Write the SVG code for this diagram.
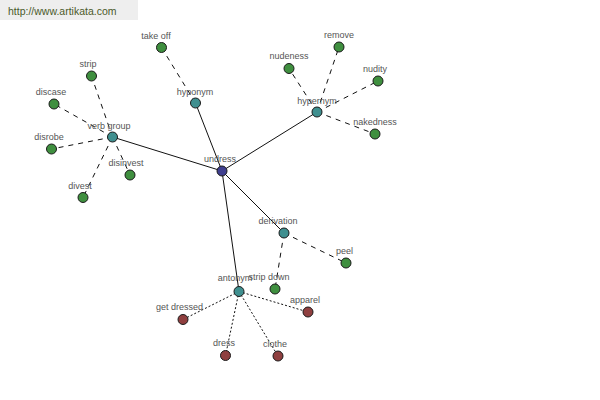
<svg xmlns="http://www.w3.org/2000/svg" width="600" height="400" viewBox="0 0 600 400">
<style>
text{font-family:"Liberation Sans",Arial,sans-serif;font-size:9px;fill:#555;text-anchor:middle}
.hdr{font-size:10.5px;fill:#4b5a2a;text-anchor:start}
line{stroke:#111;stroke-width:1}
.d{stroke-dasharray:5,5}
.o{stroke-dasharray:2,2}
circle{r:5;stroke:#1a1a1a;stroke-width:1}
.b{fill:#3f3f8f}.t{fill:#3f8f8f}.g{fill:#3f8f3f}.r{fill:#8f3f3f}
</style>
<rect x="0" y="0" width="138" height="20" fill="#eeeeee"/>
<text class="hdr" x="8" y="15">http://www.artikata.com</text>
<g id="connectors">
<line x1="222" y1="171" x2="195.5" y2="103"/>
<line x1="222" y1="171" x2="317" y2="112"/>
<line x1="222" y1="171" x2="112.5" y2="137"/>
<line x1="222" y1="171" x2="284" y2="233"/>
<line x1="222" y1="171" x2="239" y2="291.5"/>
<line class="d" x1="195.5" y1="103" x2="161.5" y2="47.5"/>
<line class="d" x1="317" y1="112" x2="289" y2="68.5"/>
<line class="d" x1="317" y1="112" x2="339" y2="47"/>
<line class="d" x1="317" y1="112" x2="378" y2="81"/>
<line class="d" x1="317" y1="112" x2="375" y2="134"/>
<line class="d" x1="112.5" y1="137" x2="91.5" y2="76"/>
<line class="d" x1="112.5" y1="137" x2="54" y2="104"/>
<line class="d" x1="112.5" y1="137" x2="51.5" y2="149"/>
<line class="d" x1="112.5" y1="137" x2="83" y2="197.5"/>
<line class="d" x1="112.5" y1="137" x2="130" y2="175"/>
<line class="d" x1="284" y1="233" x2="346" y2="263"/>
<line class="d" x1="284" y1="233" x2="275" y2="289"/>
<line class="o" x1="239" y1="291.5" x2="183" y2="319.5"/>
<line class="o" x1="239" y1="291.5" x2="225.5" y2="355.5"/>
<line class="o" x1="239" y1="291.5" x2="278" y2="356"/>
<line class="o" x1="239" y1="291.5" x2="308" y2="312"/>
</g>
<g id="undress"><circle class="b" cx="222" cy="171" r="5"/><text x="220" y="162">undress</text></g>
<g id="hyponym"><circle class="t" cx="195.5" cy="103" r="5"/><text x="195" y="95">hyponym</text></g>
<g id="hypernym"><circle class="t" cx="317" cy="112" r="5"/><text x="317" y="104">hypernym</text></g>
<g id="verb-group"><circle class="t" cx="112.5" cy="137" r="5"/><text x="109" y="129">verb group</text></g>
<g id="derivation"><circle class="t" cx="284" cy="233" r="5"/><text x="278" y="224">derivation</text></g>
<g id="antonym"><circle class="t" cx="239" cy="291.5" r="5"/><text x="235" y="281">antonym</text></g>
<g id="take-off"><circle class="g" cx="161.5" cy="47.5" r="5"/><text x="156" y="39">take off</text></g>
<g id="nudeness"><circle class="g" cx="289" cy="68.5" r="5"/><text x="289" y="59">nudeness</text></g>
<g id="remove"><circle class="g" cx="339" cy="47" r="5"/><text x="339" y="38">remove</text></g>
<g id="nudity"><circle class="g" cx="378" cy="81" r="5"/><text x="375" y="72">nudity</text></g>
<g id="nakedness"><circle class="g" cx="375" cy="134" r="5"/><text x="375" y="125">nakedness</text></g>
<g id="strip"><circle class="g" cx="91.5" cy="76" r="5"/><text x="88" y="67">strip</text></g>
<g id="discase"><circle class="g" cx="54" cy="104" r="5"/><text x="51" y="95">discase</text></g>
<g id="disrobe"><circle class="g" cx="51.5" cy="149" r="5"/><text x="49" y="140">disrobe</text></g>
<g id="divest"><circle class="g" cx="83" cy="197.5" r="5"/><text x="80" y="189">divest</text></g>
<g id="disinvest"><circle class="g" cx="130" cy="175" r="5"/><text x="126" y="166">disinvest</text></g>
<g id="peel"><circle class="g" cx="346" cy="263" r="5"/><text x="344.5" y="254">peel</text></g>
<g id="strip-down"><circle class="g" cx="275" cy="289" r="5"/><text x="269" y="280">strip down</text></g>
<g id="get-dressed"><circle class="r" cx="183" cy="319.5" r="5"/><text x="179.5" y="310">get dressed</text></g>
<g id="dress"><circle class="r" cx="225.5" cy="355.5" r="5"/><text x="224" y="346">dress</text></g>
<g id="clothe"><circle class="r" cx="278" cy="356" r="5"/><text x="275" y="347">clothe</text></g>
<g id="apparel"><circle class="r" cx="308" cy="312" r="5"/><text x="305" y="303">apparel</text></g>
</svg>
